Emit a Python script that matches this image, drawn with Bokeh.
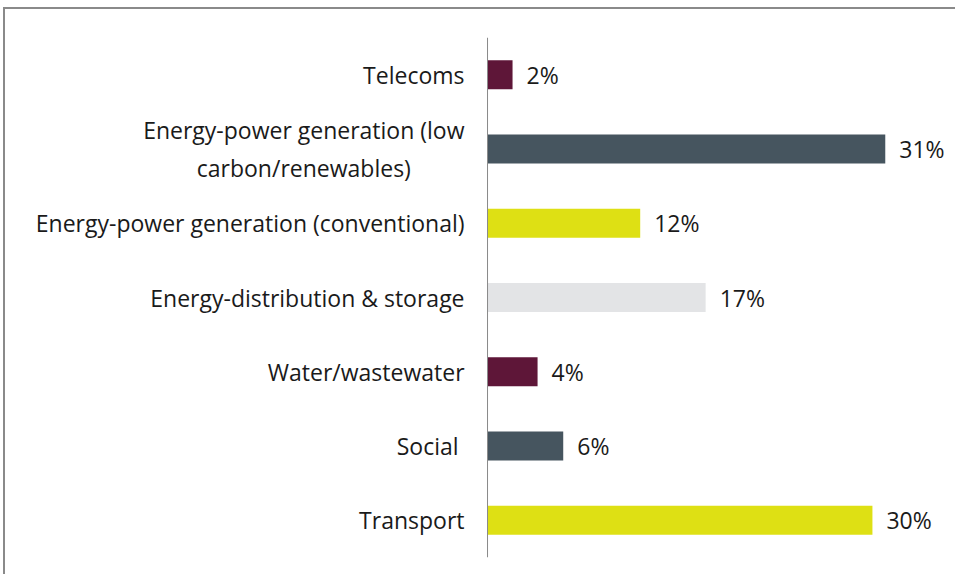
from bokeh.plotting import figure
from bokeh.models import ColumnDataSource, FactorRange, Range1d, Span
from bokeh.core.properties import value
from bokeh.embed import file_html
from bokeh.resources import INLINE

categories = [
    "Telecoms",
    "Energy-power generation (low\ncarbon/renewables)",
    "Energy-power generation (conventional)",
    "Energy-distribution & storage",
    "Water/wastewater",
    "Social ",
    "Transport",
]
values = [1.95, 31.0, 11.9, 17.0, 3.9, 5.9, 30.0]
value_labels = ["2%", "31%", "12%", "17%", "4%", "6%", "30%"]
colors = ["#5e1638", "#46555f", "#dee014", "#e3e4e6", "#5e1638", "#46555f", "#dee014"]

FONT = "Open Sans"
FS = "23px"

src = ColumnDataSource(dict(cat=categories, val=values, lab=value_labels, col=colors,
                            zero=[0] * len(categories)))

p = figure(width=952, height=567, output_backend="svg", toolbar_location=None,
           y_range=FactorRange(factors=list(reversed(categories)), range_padding=0),
           x_range=Range1d(-37.57, 36.63),
           min_border_left=0, min_border_top=28, min_border_bottom=19, min_border_right=0)
p.styles = {"margin-left": "3px", "margin-top": "7px",
            "border-left": "2px solid #8a8a8a", "border-top": "2px solid #8a8a8a"}

p.hbar(y="cat", right="val", left=0, height=0.39, color="col", line_color=None, source=src)

# vertical category axis line
p.add_layout(Span(location=0, dimension="height", line_color="#8a8a8a", line_width=1))

# value labels
p.text(x="val", y="cat", text="lab", x_offset=14, text_align="left", text_baseline="middle",
       text_font=value(FONT), text_font_size=FS, text_color="#1a1a1a", source=src)

# category labels
p.text(x="zero", y="cat", text="cat", x_offset=-23, anchor="center_right", text_align="center",
       text_baseline="middle", text_font=value(FONT), text_font_size=FS, text_line_height=1.2,
       text_color="#1a1a1a", source=src)

p.xaxis.visible = False
p.yaxis.visible = False
p.xgrid.visible = False
p.ygrid.visible = False
p.outline_line_color = None
p.background_fill_color = "white"
p.border_fill_color = "white"

open("out.html", "w").write(file_html(p, INLINE))
